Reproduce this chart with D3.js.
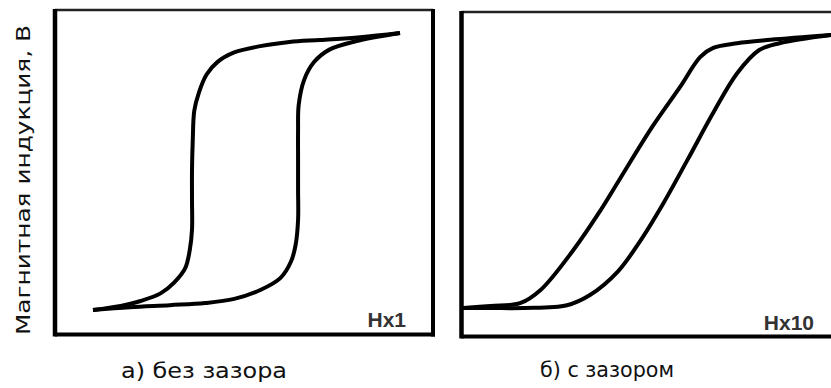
<!DOCTYPE html>
<html>
<head>
<meta charset="utf-8">
<script src="https://cdn.jsdelivr.net/npm/d3@7"></script>
<style>
  html, body { margin: 0; padding: 0; background: #fff; }
  svg { display: block; }
</style>
</head>
<body>
<div id="chart"></div>
<script>
// Hysteresis loops, H and B normalised to the loop tips (-1 .. 1)
// panel a: without gap
const gaplessDownH = [1, 0.74, 0.48, 0.28, 0.09, -0.08, -0.19, -0.26, -0.31, -0.34, -0.35, -0.355, -0.355, -0.355, -0.37, -0.40, -0.47, -0.56, -0.69, -0.82, -1];
const gaplessDownB = [1, 0.97, 0.95, 0.935, 0.905, 0.86, 0.79, 0.70, 0.57, 0.44, 0.23, 0.01, -0.21, -0.42, -0.57, -0.70, -0.80, -0.88, -0.935, -0.97, -1];
const gaplessUpH = [-1, -0.76, -0.50, -0.27, -0.08, 0.09, 0.22, 0.29, 0.32, 0.336, 0.336, 0.336, 0.336, 0.34, 0.375, 0.44, 0.54, 0.71, 1];
const gaplessUpB = [-1, -0.98, -0.965, -0.95, -0.92, -0.856, -0.77, -0.65, -0.53, -0.35, -0.13, 0.08, 0.30, 0.48, 0.66, 0.79, 0.88, 0.94, 1];

// panel b: with gap
const gapDownH = [1, 0.67, 0.49, 0.36, 0.29, 0.18, 0.03, -0.15, -0.26, -0.40, -0.58, -0.69, -0.85, -1];
const gapDownB = [1, 0.965, 0.94, 0.905, 0.84, 0.62, 0.33, -0.06, -0.30, -0.575, -0.87, -0.965, -0.985, -1];
const gapUpH = [-1, -0.85, -0.67, -0.435, -0.31, -0.16, -0.04, 0.09, 0.22, 0.36, 0.49, 0.61, 0.72, 1];
const gapUpB = [-1, -1, -1, -0.98, -0.905, -0.735, -0.515, -0.23, 0.085, 0.43, 0.72, 0.89, 0.94, 1];

const captions = ['а) без зазора', 'б) с зазором'];
const scaleLabels = ['Hx1', 'Hx10'];
const yTitle = 'Магнитная индукция, В';

const width = 831, height = 388;
const hand = '"DejaVu Sans", sans-serif';

const zip = (hs, bs) => hs.map((h, i) => ({ h: h, b: bs[i] }));

const panels = [
    {
        frame: { x0: 55, x1: 433, y0: 10, y1: 334.5 },
        xRange: [93, 400], yRange: [310, 33],
        branches: [zip(gaplessDownH, gaplessDownB), zip(gaplessUpH, gaplessUpB)],
        caption: captions[0], captionX: 204, captionY: 378, captionLen: 166,
        label: scaleLabels[0], labelX: 406, labelY: 327
    },
    {
        frame: { x0: 461.5, x1: 845, y0: 12, y1: 336.5 },
        xRange: [463, 831], yRange: [308, 35],
        branches: [zip(gapDownH, gapDownB), zip(gapUpH, gapUpB)],
        caption: captions[1], captionX: 607, captionY: 377, captionLen: 134,
        label: scaleLabels[1], labelX: 814, labelY: 330
    }
];

const svg = d3.select('#chart')
    .append('svg')
    .attr('width', width)
    .attr('height', height);

panels.forEach(p => {
    const x = d3.scaleLinear().domain([-1, 1]).range(p.xRange);
    const y = d3.scaleLinear().domain([-1, 1]).range(p.yRange);
    const g = svg.append('g');
    const f = p.frame;

    // frame: thin top, heavier other sides
    g.append('line').attr('x1', f.x0).attr('x2', f.x1).attr('y1', f.y0).attr('y2', f.y0)
        .attr('stroke', '#222').attr('stroke-width', 2.5);
    g.append('line').attr('x1', f.x0).attr('x2', f.x0).attr('y1', f.y0 - 1).attr('y2', f.y1 + 2)
        .attr('stroke', '#000').attr('stroke-width', 4.5);
    g.append('line').attr('x1', f.x1).attr('x2', f.x1).attr('y1', f.y0 - 1).attr('y2', f.y1 + 2)
        .attr('stroke', '#000').attr('stroke-width', 4);
    g.append('line').attr('x1', f.x0).attr('x2', f.x1 + 2).attr('y1', f.y1).attr('y2', f.y1)
        .attr('stroke', '#000').attr('stroke-width', 4);

    const line = d3.line()
        .x(d => x(d.h))
        .y(d => y(d.b))
        .curve(d3.curveCatmullRom.alpha(0.5));

    g.selectAll('path.loop')
        .data(p.branches)
        .join('path')
        .attr('class', 'loop')
        .attr('d', line)
        .attr('fill', 'none')
        .attr('stroke', '#000')
        .attr('stroke-width', 4)
        .attr('stroke-linecap', 'butt');

    g.append('text')
        .attr('x', p.labelX)
        .attr('y', p.labelY)
        .attr('text-anchor', 'end')
        .style('font', 'bold 21px "Liberation Sans", Arial, sans-serif')
        .attr('fill', '#333')
        .text(p.label);

    g.append('text')
        .attr('x', p.captionX)
        .attr('y', p.captionY)
        .attr('text-anchor', 'middle')
        .style('font-family', hand)
        .style('font-size', '22px')
        .attr('fill', '#111')
        .attr('textLength', p.captionLen)
        .attr('lengthAdjust', 'spacingAndGlyphs')
        .text(p.caption);
});

svg.append('text')
    .attr('transform', 'translate(30,180) rotate(-90)')
    .attr('text-anchor', 'middle')
    .style('font-family', hand)
    .style('font-size', '20px')
    .attr('fill', '#111')
    .attr('textLength', 310)
    .attr('lengthAdjust', 'spacingAndGlyphs')
    .text(yTitle);
</script>
</body>
</html>
